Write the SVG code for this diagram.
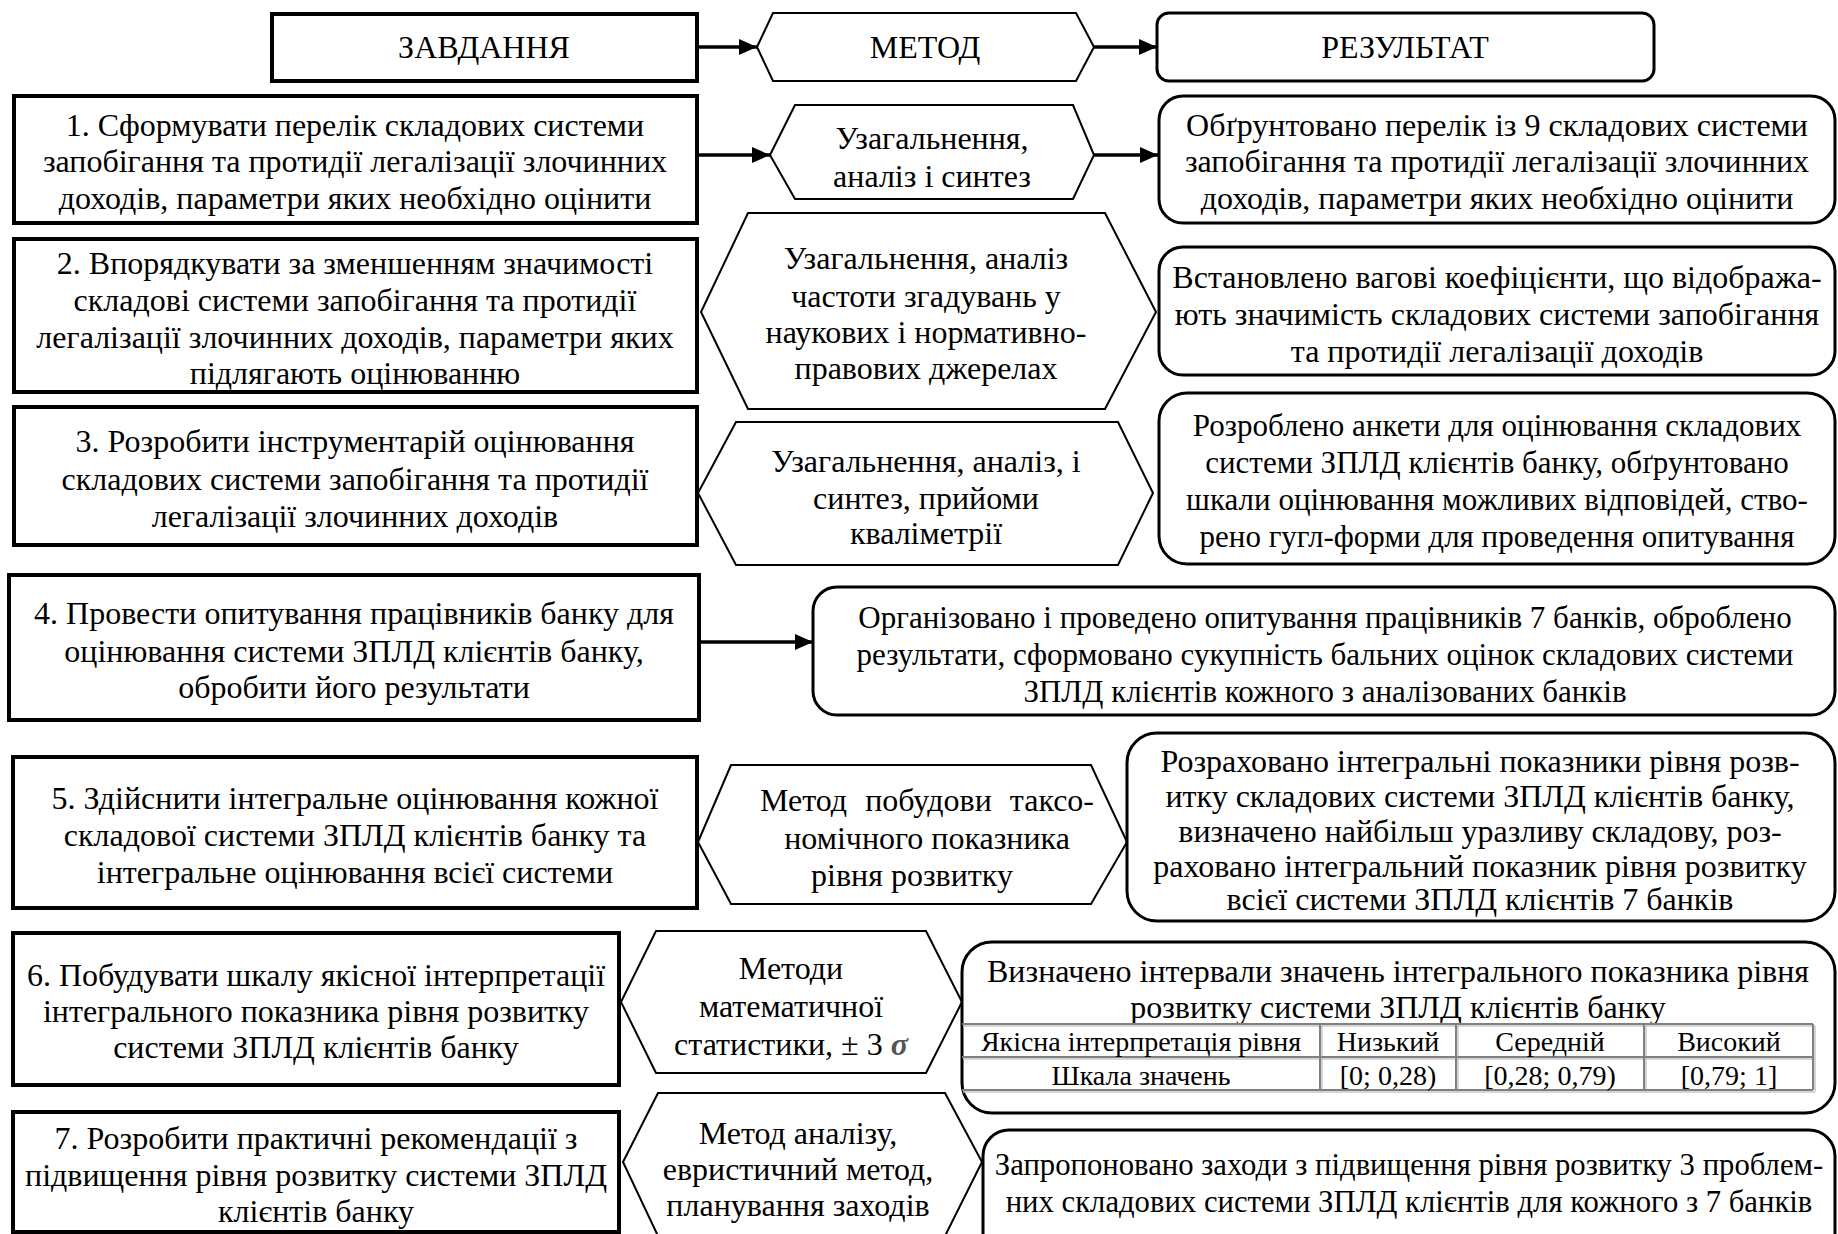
<svg xmlns="http://www.w3.org/2000/svg" width="1838" height="1234" viewBox="0 0 1838 1234">
<defs>
<style>
text{font-family:"Liberation Serif","Times New Roman",serif;font-size:32px;fill:#000;text-anchor:middle}
.task{fill:#fff;stroke:#000;stroke-width:4}
.hex{fill:#fff;stroke:#000;stroke-width:2;stroke-linejoin:miter}
.res{fill:#fff;stroke:#000;stroke-width:3}
.conn{stroke:#000;stroke-width:3.5;fill:none}
.tbl{stroke:#808080;stroke-width:2;fill:none}
.tbls{stroke:#c8c8c8;stroke-width:1.5;fill:none}
.tt{font-size:28px}
.s31{font-size:31px}
.s307{font-size:30.7px}
</style>
<marker id="ah" markerUnits="userSpaceOnUse" markerWidth="20" markerHeight="16" refX="18" refY="8" orient="auto">
<path d="M0,0 L18,8 L0,16 Z" fill="#000"/>
</marker>
</defs>
<rect width="1838" height="1234" fill="#fff"/>

<g id="head-task"><rect class="task" x="272" y="14" width="425" height="67"/><text x="484" y="58">ЗАВДАННЯ</text></g>
<g id="head-method"><polygon class="hex" points="757,47 773,13 1076,13 1094,47 1076,81 773,81"/><text x="925" y="58">МЕТОД</text></g>
<g id="head-result"><rect class="res" x="1157" y="13" width="497" height="68" rx="12"/><text x="1405" y="58">РЕЗУЛЬТАТ</text></g>

<g id="task1"><rect class="task" x="14" y="96" width="683" height="127"/>
<text><tspan x="355" y="136">1. Сформувати перелік складових системи</tspan><tspan x="355" y="172">запобігання та протидії легалізації злочинних</tspan><tspan x="355" y="209">доходів, параметри яких необхідно оцінити</tspan></text></g>
<g id="method1"><polygon class="hex" points="770,155 795,105 1073,105 1094,155 1073,199 795,199"/>
<text><tspan x="932" y="149">Узагальнення,</tspan><tspan x="932" y="187">аналіз і синтез</tspan></text></g>
<g id="result1"><rect class="res" x="1159" y="96" width="676" height="127" rx="24"/>
<text><tspan x="1497" y="136">Обґрунтовано перелік із 9 складових системи</tspan><tspan x="1497" y="172">запобігання та протидії легалізації злочинних</tspan><tspan x="1497" y="209">доходів, параметри яких необхідно оцінити</tspan></text></g>

<g id="task2"><rect class="task" x="14" y="239" width="683" height="153"/>
<text><tspan x="355" y="274">2. Впорядкувати за зменшенням значимості</tspan><tspan x="355" y="311">складові системи запобігання та протидії</tspan><tspan x="355" y="348">легалізації злочинних доходів, параметри яких</tspan><tspan x="355" y="384">підлягають оцінюванню</tspan></text></g>
<g id="method2"><polygon class="hex" points="701,312 748,213 1105,213 1156,312 1105,409 748,409"/>
<text><tspan x="926" y="269">Узагальнення, аналіз</tspan><tspan x="926" y="307">частоти згадувань у</tspan><tspan x="926" y="343">наукових і нормативно-</tspan><tspan x="926" y="379">правових джерелах</tspan></text></g>
<g id="result2"><rect class="res" x="1159" y="247" width="676" height="128" rx="24"/>
<text><tspan x="1497" y="288">Встановлено вагові коефіцієнти, що відобража-</tspan><tspan x="1497" y="325">ють значимість складових системи запобігання</tspan><tspan x="1497" y="362">та протидії легалізації доходів</tspan></text></g>

<g id="task3"><rect class="task" x="14" y="407" width="683" height="138"/>
<text><tspan x="355" y="452">3. Розробити інструментарій оцінювання</tspan><tspan x="355" y="490">складових системи запобігання та протидії</tspan><tspan x="355" y="527">легалізації злочинних доходів</tspan></text></g>
<g id="method3"><polygon class="hex" points="698,493 736,422 1118,422 1153,493 1118,565 736,565"/>
<text><tspan x="926" y="472">Узагальнення, аналіз, і</tspan><tspan x="926" y="509">синтез, прийоми</tspan><tspan x="926" y="544">кваліметрії</tspan></text></g>
<g id="result3"><rect class="res" x="1159" y="393" width="676" height="171" rx="28"/>
<text class="s31"><tspan x="1497" y="436">Розроблено анкети для оцінювання складових</tspan><tspan x="1497" y="473">системи ЗПЛД клієнтів банку, обґрунтовано</tspan><tspan x="1497" y="510">шкали оцінювання можливих відповідей, ство-</tspan><tspan x="1497" y="547">рено гугл-форми для проведення опитування</tspan></text></g>

<g id="task4"><rect class="task" x="9" y="575" width="690" height="145"/>
<text><tspan x="354" y="624">4. Провести опитування працівників банку для</tspan><tspan x="354" y="662">оцінювання системи ЗПЛД клієнтів банку,</tspan><tspan x="354" y="698">обробити його результати</tspan></text></g>
<g id="result4"><rect class="res" x="813" y="587" width="1022" height="128" rx="24"/>
<text class="s31"><tspan x="1325" y="628">Організовано і проведено опитування працівників 7 банків, оброблено</tspan><tspan x="1325" y="665">результати, сформовано сукупність бальних оцінок складових системи</tspan><tspan x="1325" y="702">ЗПЛД клієнтів кожного з аналізованих банків</tspan></text></g>

<g id="task5"><rect class="task" x="13" y="757" width="684" height="151"/>
<text><tspan x="355" y="809">5. Здійснити інтегральне оцінювання кожної</tspan><tspan x="355" y="846">складової системи ЗПЛД клієнтів банку та</tspan><tspan x="355" y="883">інтегральне оцінювання всієї системи</tspan></text></g>
<g id="method5"><polygon class="hex" points="698,842 731,765 1091,765 1127,842 1091,904 731,904"/>
<text><tspan x="927" y="811" word-spacing="10">Метод побудови таксо-</tspan><tspan x="927" y="849">номічного показника</tspan><tspan x="912" y="886">рівня розвитку</tspan></text></g>
<g id="result5"><rect class="res" x="1127" y="733" width="708" height="188" rx="30"/>
<text><tspan x="1480" y="772">Розраховано інтегральні показники рівня розв-</tspan><tspan x="1480" y="807">итку складових системи ЗПЛД клієнтів банку,</tspan><tspan x="1480" y="842">визначено найбільш уразливу складову, роз-</tspan><tspan x="1480" y="877">раховано інтегральний показник рівня розвитку</tspan><tspan x="1480" y="910">всієї системи ЗПЛД клієнтів 7 банків</tspan></text></g>

<g id="task6"><rect class="task" x="13" y="933" width="606" height="152"/>
<text><tspan x="316" y="986">6. Побудувати шкалу якісної інтерпретації</tspan><tspan x="316" y="1022">інтегрального показника рівня розвитку</tspan><tspan x="316" y="1058">системи ЗПЛД клієнтів банку</tspan></text></g>
<g id="method6"><polygon class="hex" points="621,1002 656,931 926,931 962,1002 926,1073 656,1073"/>
<text><tspan x="791" y="979">Методи</tspan><tspan x="791" y="1017">математичної</tspan><tspan x="791" y="1055">статистики,  ± 3 <tspan font-style="italic" font-weight="bold" fill="#555">σ</tspan></tspan></text></g>
<g id="result6"><rect class="res" x="962" y="942" width="873" height="171" rx="30"/>
<text><tspan x="1398" y="982">Визначено інтервали значень інтегрального показника рівня</tspan><tspan x="1398" y="1018">розвитку системи ЗПЛД клієнтів банку</tspan></text>
<g id="table6">
<path class="tbls" d="M963,1026 H1815 M963,1059 H1815 M963,1092 H1815 M1322,1026 V1092 M1458,1026 V1092 M1646,1026 V1092 M1815,1026 V1092"/>
<path class="tbl" d="M962,1024 H1813 M962,1057 H1813 M962,1090 H1813 M1320,1024 V1090 M1456,1024 V1090 M1644,1024 V1090 M1813,1024 V1090"/>
<text class="tt"><tspan x="1141" y="1051">Якісна інтерпретація рівня</tspan><tspan x="1388" y="1051">Низький</tspan><tspan x="1550" y="1051">Середній</tspan><tspan x="1729" y="1051">Високий</tspan></text>
<text class="tt"><tspan x="1141" y="1085">Шкала значень</tspan><tspan x="1388" y="1085">[0; 0,28)</tspan><tspan x="1550" y="1085">[0,28; 0,79)</tspan><tspan x="1729" y="1085">[0,79; 1]</tspan></text>
</g></g>

<g id="task7"><rect class="task" x="13" y="1112" width="606" height="120"/>
<text><tspan x="316" y="1149">7. Розробити практичні рекомендації з</tspan><tspan x="316" y="1186">підвищення рівня розвитку системи ЗПЛД</tspan><tspan x="316" y="1222">клієнтів банку</tspan></text></g>
<g id="method7"><polygon class="hex" points="623,1162 658,1093 945,1093 982,1162 945,1236 658,1236"/>
<text><tspan x="798" y="1144">Метод аналізу,</tspan><tspan x="798" y="1180">евристичний метод,</tspan><tspan x="798" y="1216">планування заходів</tspan></text></g>
<g id="result7"><rect class="res" x="983" y="1130" width="852" height="130" rx="26"/>
<text class="s307"><tspan x="1409" y="1175">Запропоновано заходи з підвищення рівня розвитку 3 проблем-</tspan><tspan x="1409" y="1212">них складових системи ЗПЛД клієнтів для кожного з 7 банків</tspan></text></g>

<g id="connectors">
<line class="conn" x1="699" y1="47" x2="757" y2="47" marker-end="url(#ah)"/>
<line class="conn" x1="1094" y1="47" x2="1157" y2="47" marker-end="url(#ah)"/>
<line class="conn" x1="699" y1="155" x2="770" y2="155" marker-end="url(#ah)"/>
<line class="conn" x1="1094" y1="155" x2="1158" y2="155" marker-end="url(#ah)"/>
<line class="conn" x1="701" y1="642" x2="813" y2="642" marker-end="url(#ah)"/>
</g>
</svg>
